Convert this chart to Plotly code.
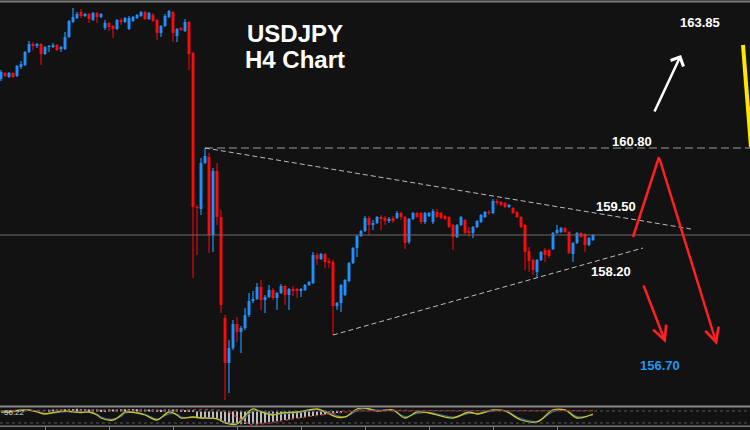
import plotly.graph_objects as go

# USDJPY H4 candles
opens = [162.18, 162.30, 162.22, 162.30, 162.24, 162.42, 162.46, 162.72, 162.88, 162.84,
         162.88, 162.68, 162.82, 162.82, 162.86, 162.78, 162.78, 163.02, 163.32, 163.40,
         163.52, 163.44, 163.48, 163.36, 163.50, 163.42, 163.20, 163.30, 163.24, 163.18,
         163.36, 163.32, 163.18, 163.34, 163.40, 163.44, 163.52, 163.38, 163.46, 163.36,
         163.10, 163.24, 163.42, 163.52, 163.04, 163.20, 163.14, 163.32, 162.70, 159.62,
         159.58, 160.50, 160.62, 159.06, 160.34, 159.42, 157.40, 156.50, 156.80, 157.28,
         157.12, 157.20, 157.46, 157.74, 157.78, 158.02, 157.76, 157.82, 157.96, 157.80,
         157.90, 158.04, 157.86, 157.98, 157.98, 157.94, 157.96, 158.06, 158.10, 158.66,
         158.58, 158.68, 158.54, 158.52, 157.64, 157.70, 157.86, 158.14, 158.50, 158.80,
         159.04, 159.14, 159.40, 159.26, 159.30, 159.42, 159.40, 159.34, 159.40, 159.40,
         159.50, 159.42, 158.92, 159.38, 159.50, 159.50, 159.32, 159.44, 159.32, 159.52,
         159.50, 159.44, 159.42, 159.26, 159.02, 159.26, 159.36, 159.14, 159.10, 159.22,
         159.32, 159.42, 159.52, 159.50, 159.74, 159.72, 159.70, 159.62, 159.60, 159.52,
         159.42, 159.26, 158.74, 158.56, 158.32, 158.56, 158.76, 158.76, 158.78, 159.10,
         159.12, 159.20, 159.12, 158.68, 158.90, 159.10, 159.08, 158.86, 158.96]
highs = [162.36, 162.32, 162.32, 162.32, 162.46, 162.54, 162.74, 162.94, 162.92, 162.90,
         162.90, 162.84, 162.86, 162.90, 162.88, 162.84, 163.12, 163.36, 163.60, 163.52,
         163.58, 163.50, 163.50, 163.52, 163.52, 163.50, 163.36, 163.32, 163.26, 163.38,
         163.40, 163.42, 163.44, 163.44, 163.48, 163.54, 163.54, 163.52, 163.50, 163.38,
         163.26, 163.48, 163.56, 163.54, 163.20, 163.22, 163.38, 163.34, 162.72, 159.66,
         160.60, 160.80, 160.70, 160.40, 160.50, 159.56, 157.46, 156.96, 157.36, 157.42,
         157.24, 157.60, 157.90, 157.94, 158.10, 158.16, 157.86, 158.06, 158.00, 157.92,
         158.08, 158.06, 158.00, 158.04, 158.00, 158.00, 158.08, 158.14, 158.72, 158.70,
         158.70, 158.70, 158.60, 158.56, 157.72, 158.08, 158.18, 158.52, 158.82, 159.06,
         159.16, 159.44, 159.44, 159.36, 159.44, 159.46, 159.44, 159.42, 159.44, 159.54,
         159.52, 159.44, 159.40, 159.52, 159.52, 159.52, 159.52, 159.52, 159.58, 159.58,
         159.52, 159.46, 159.44, 159.28, 159.28, 159.44, 159.38, 159.22, 159.24, 159.36,
         159.48, 159.54, 159.56, 159.78, 159.78, 159.74, 159.72, 159.68, 159.62, 159.54,
         159.44, 159.28, 158.82, 158.58, 158.58, 158.74, 158.80, 158.78, 159.12, 159.26,
         159.22, 159.22, 159.14, 158.92, 159.12, 159.12, 159.10, 159.02, 159.08]
lows = [162.14, 162.22, 162.20, 162.20, 162.22, 162.38, 162.44, 162.70, 162.76, 162.80,
        162.46, 162.66, 162.72, 162.80, 162.74, 162.72, 162.76, 163.00, 163.30, 163.38,
        163.40, 163.42, 163.30, 163.34, 163.30, 163.40, 163.16, 163.14, 163.00, 163.16,
        163.26, 163.30, 163.16, 163.32, 163.38, 163.42, 163.36, 163.36, 163.32, 162.96,
        163.02, 163.22, 163.40, 162.92, 162.92, 163.14, 163.12, 162.36, 158.20, 158.66,
        159.46, 160.48, 158.70, 158.72, 159.26, 157.50, 155.76, 155.90, 156.76, 156.92,
        156.70, 157.16, 157.42, 157.70, 157.76, 157.56, 157.50, 157.80, 157.76, 157.56,
        157.88, 157.66, 157.56, 157.84, 157.80, 157.82, 157.94, 158.04, 158.08, 158.46,
        158.56, 158.40, 158.40, 157.06, 157.56, 157.52, 157.84, 158.12, 158.48, 158.62,
        159.02, 159.12, 159.06, 159.16, 159.28, 159.16, 159.26, 159.30, 159.30, 159.38,
        159.36, 158.78, 158.88, 159.36, 159.40, 159.28, 159.28, 159.42, 159.28, 159.40,
        159.38, 159.36, 159.20, 158.76, 159.00, 159.24, 159.08, 159.02, 159.00, 159.20,
        159.30, 159.40, 159.46, 159.48, 159.66, 159.64, 159.60, 159.60, 159.48, 159.40,
        159.20, 158.36, 158.32, 158.26, 158.22, 158.54, 158.52, 158.60, 158.76, 159.08,
        159.10, 159.10, 158.68, 158.52, 158.88, 159.00, 158.72, 158.84, 158.94]
closes = [162.32, 162.24, 162.30, 162.22, 162.44, 162.48, 162.72, 162.88, 162.84, 162.88,
          162.68, 162.82, 162.84, 162.86, 162.76, 162.82, 163.02, 163.34, 163.42, 163.48,
          163.44, 163.48, 163.38, 163.50, 163.42, 163.48, 163.30, 163.22, 163.18, 163.36,
          163.32, 163.40, 163.40, 163.42, 163.46, 163.52, 163.38, 163.50, 163.34, 163.10,
          163.24, 163.44, 163.54, 163.10, 163.18, 163.16, 163.32, 162.68, 159.62, 159.60,
          160.50, 160.64, 159.06, 160.34, 159.42, 157.66, 156.50, 156.80, 157.28, 157.12,
          157.20, 157.46, 157.74, 157.78, 158.02, 157.76, 157.82, 157.96, 157.80, 157.90,
          158.04, 157.86, 157.98, 157.94, 157.94, 157.98, 158.06, 158.12, 158.66, 158.58,
          158.68, 158.52, 158.50, 157.64, 157.70, 158.06, 158.16, 158.50, 158.80, 159.04,
          159.14, 159.40, 159.26, 159.30, 159.42, 159.38, 159.34, 159.38, 159.34, 159.50,
          159.42, 158.90, 159.38, 159.50, 159.42, 159.32, 159.50, 159.50, 159.54, 159.42,
          159.40, 159.38, 159.22, 159.02, 159.26, 159.42, 159.10, 159.10, 159.22, 159.34,
          159.46, 159.52, 159.50, 159.74, 159.70, 159.66, 159.62, 159.66, 159.50, 159.42,
          159.22, 158.72, 158.54, 158.36, 158.56, 158.72, 158.66, 158.64, 159.10, 159.16,
          159.20, 159.12, 158.70, 158.90, 159.10, 159.02, 158.86, 159.00, 159.06]
bars = list(range(len(opens)))

# oscillator panel readings
osc_x = [0, 2, 5, 7, 9, 11, 13, 16, 20, 22, 24, 25, 28, 30, 31, 34, 36, 39, 42, 44,
         45, 48, 50, 54, 56, 59, 60, 63, 65, 68, 70, 74, 77, 79, 81, 84, 86, 89, 91, 94,
         98, 101, 104, 107, 113, 117, 119, 123, 126, 130, 134, 138, 141, 144, 148]
osc_yellow = [75, 75, 85, 85, 75, 65, 72, 80, 72, 75, 60, 45, 35, 60, 75, 70, 60, 35, 75, 60,
              45, 50, 45, 40, 20, 15, 35, 90, 75, 60, 70, 75, 85, 90, 75, 50, 50, 90, 95, 80,
              85, 45, 75, 70, 45, 75, 65, 85, 80, 35, 25, 85, 85, 45, 65]
osc_blue = [72, 74, 80, 84, 78, 68, 70, 77, 74, 74, 64, 50, 38, 52, 70, 71, 63, 40, 66, 64,
            50, 48, 46, 42, 25, 17, 28, 80, 80, 64, 66, 72, 82, 88, 80, 56, 50, 82, 92, 84,
            82, 52, 68, 72, 50, 68, 68, 80, 82, 42, 28, 76, 86, 52, 60]
sig_x = [0, 20, 40, 56, 59, 62, 65, 73, 80, 84, 90, 110, 130, 148]
sig_red = [82, 84, 83, 80, 50, 15, 15, 40, 60, 70, 80, 82, 82, 82]
hist_x = list(range(12, 86))
hist_end = [86, 87, 88, 88, 89, 90, 90, 91, 90, 89, 88, 88, 87, 86, 86, 87, 88, 88, 89, 89,
            90, 90, 89, 88, 88, 87, 87, 86, 86, 87, 88, 88, 87, 86, 85, 84, 82,
            50, 48, 45, 43, 42, 39, 33, 23, 18, 16, 15, 14, 15, 15, 16, 15, 17, 20, 24, 26,
            29, 31, 35, 37, 40, 44, 46, 48, 52, 55, 57, 60, 63, 65, 68, 71, 73]
hist_base = 77

# analyst drawing: levels, trendlines, projected path
level_high = 160.80
last_price = closes[-1]
upper_tl = [(51, 160.80), (172.5, 159.18)]
lower_tl = [(83, 157.06), (160.5, 158.80)]
path_up = [(158, 159.02), (164.5, 160.62)]
path_down = [(164.5, 160.62), (179, 156.86)]
short_arrow = [(160.5, 158.08), (166.2, 156.90)]
long_arrow = [(163.2, 161.50), (170, 162.66)]
price_labels = [("163.85", 174.8, 163.31, "white"), ("160.80", 157.7, 160.93, "white"),
                ("159.50", 153.7, 159.63, "white"), ("158.20", 152.4, 158.34, "white"),
                ("156.70", 164.75, 156.46, "#2196f3")]

BG = "#121212"
UP, DN = "#1e90ff", "#ff0a0a"
UPW, DNW = "#1b5e9e", "#8f0a0a"

up = [c >= o for o, c in zip(opens, closes)]
body_base = [min(o, c) for o, c in zip(opens, closes)]
body_len = [max(abs(c - o), 0.02) for o, c in zip(opens, closes)]

fig = go.Figure()
fig.add_bar(x=bars, base=lows, y=[h - l for h, l in zip(highs, lows)], width=0.28,
            marker=dict(color=[UPW if u else DNW for u in up], line_width=0),
            hoverinfo="skip")
fig.add_bar(x=bars, base=body_base, y=body_len, width=0.72,
            marker=dict(color=[UP if u else DN for u in up], line_width=0),
            customdata=list(zip(opens, highs, lows, closes)),
            hovertemplate="O %{customdata[0]}<br>H %{customdata[1]}<br>L %{customdata[2]}"
                          "<br>C %{customdata[3]}<extra></extra>")

fig.add_bar(x=hist_x, base=hist_base, y=[v - hist_base for v in hist_end], width=0.2,
            marker=dict(color="#bdbdbd", line_width=0), yaxis="y2", hoverinfo="skip")
fig.add_scatter(x=osc_x, y=osc_blue, mode="lines", yaxis="y2",
                line=dict(color="#2a6fb0", width=1.2, shape="spline"))
fig.add_scatter(x=osc_x, y=osc_yellow, mode="lines", yaxis="y2",
                line=dict(color="#d2c21c", width=1.3, shape="spline"))
fig.add_scatter(x=sig_x, y=sig_red, mode="lines", yaxis="y2",
                line=dict(color="#c0282c", width=1.3, dash="dot", shape="spline"))

shapes = [
    dict(type="line", xref="paper", yref="y", x0=0, x1=1, y0=last_price, y1=last_price,
         line=dict(color="#6a6a6a", width=1)),
    dict(type="line", xref="x", yref="y", x0=51, x1=190, y0=level_high, y1=level_high,
         line=dict(color="#9a9a9a", width=1, dash="8px,4px")),
    dict(type="line", x0=upper_tl[0][0], y0=upper_tl[0][1], x1=upper_tl[1][0], y1=upper_tl[1][1],
         line=dict(color="#bdbdbd", width=1, dash="5px,3px")),
    dict(type="line", x0=lower_tl[0][0], y0=lower_tl[0][1], x1=lower_tl[1][0], y1=lower_tl[1][1],
         line=dict(color="#bdbdbd", width=1, dash="5px,3px")),
    dict(type="line", x0=path_up[0][0], y0=path_up[0][1], x1=path_up[1][0], y1=path_up[1][1],
         line=dict(color="#ff2020", width=2.5)),
    dict(type="line", x0=185.5, y0=162.86, x1=187.5, y1=160.82,
         line=dict(color="#ffe600", width=4)),
    # panel frame lines
    dict(type="line", xref="paper", yref="paper", x0=0, x1=1, y0=0.9965, y1=0.9965,
         line=dict(color="#7a7a7a", width=2)),
    dict(type="line", xref="paper", yref="paper", x0=0, x1=1, y0=0.0547, y1=0.0547,
         line=dict(color="#8a8a8a", width=2)),
    dict(type="line", xref="paper", yref="paper", x0=0, x1=1, y0=0.0085, y1=0.0085,
         line=dict(color="#777777", width=1.5)),
    dict(type="line", xref="paper", yref="y2", x0=0, x1=1, y0=80, y1=80,
         line=dict(color="#5a5a5a", width=1, dash="dot")),
    dict(type="line", xref="paper", yref="y2", x0=0, x1=1, y0=20, y1=20,
         line=dict(color="#5a5a5a", width=1, dash="dot")),
]

annotations = []
for (tx, ty), (hx, hy), col, head in [(path_down[0], path_down[1], "#ff2020", 5),
                                      (short_arrow[0], short_arrow[1], "#ff2020", 5),
                                      (long_arrow[0], long_arrow[1], "white", 4)]:
    annotations.append(dict(x=hx, y=hy, ax=tx, ay=ty, xref="x", yref="y", axref="x", ayref="y",
                            text="", showarrow=True, arrowhead=head, arrowsize=1.1,
                            arrowwidth=2.5, arrowcolor=col))
for txt, lx, ly, col in price_labels:
    annotations.append(dict(x=lx, y=ly, xref="x", yref="y", text="<b>" + txt + "</b>",
                            showarrow=False, font=dict(family="Liberation Sans", size=13, color=col)))
annotations.append(dict(x=73.4, y=163.10, xref="x", yref="y", text="<b>USDJPY</b>", showarrow=False,
                        font=dict(family="Liberation Sans", size=24, color="white")))
annotations.append(dict(x=73.4, y=162.58, xref="x", yref="y", text="<b>H4 Chart</b>", showarrow=False,
                        font=dict(family="Liberation Sans", size=24, color="white")))
annotations.append(dict(x=0.002, y=70, xref="paper", yref="y2", xanchor="left", text="56.22",
                        showarrow=False, font=dict(family="Liberation Sans", size=8, color="#d8d8d8")))

fig.update_layout(
    width=750, height=430, margin=dict(l=0, r=0, t=0, b=0),
    paper_bgcolor=BG, plot_bgcolor=BG, showlegend=False, barmode="overlay",
    shapes=shapes, annotations=annotations,
    xaxis=dict(range=[-0.25, 187.25], showgrid=False, zeroline=False, showticklabels=False,
               anchor="y2", ticks="outside", ticklen=3, tickcolor="#777",
               tickvals=[11, 27, 43, 59, 75, 91, 107, 123, 139]),
    yaxis=dict(domain=[0.0558, 1], range=[155.64, 163.76], visible=False),
    yaxis2=dict(domain=[0.0093, 0.0512], range=[5, 95], visible=False),
)

fig.write_html("out.html", config={"displayModeBar": False},
               post_script="document.body.style.margin='0';document.body.style.overflow='hidden';")
